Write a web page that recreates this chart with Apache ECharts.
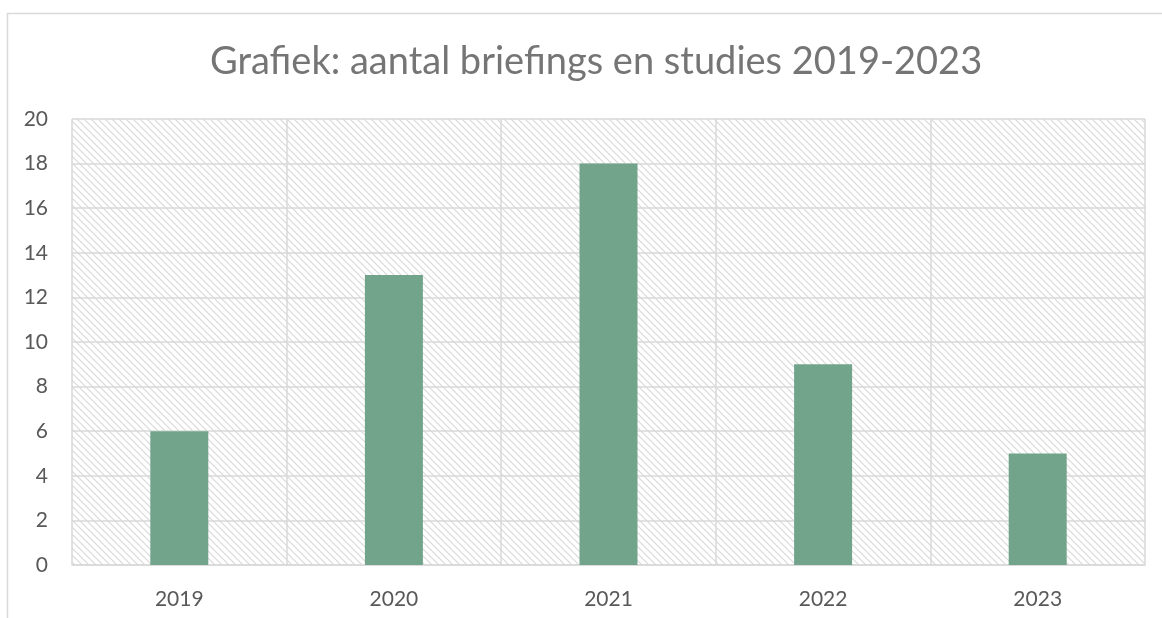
<!DOCTYPE html>
<html>
<head>
<meta charset="utf-8">
<script src="https://cdn.jsdelivr.net/npm/echarts@6/dist/echarts.min.js"></script>
<style>
    html, body { margin: 0; padding: 0; background: #fff; }
    #chart { width: 1162px; height: 618px; }
</style>
</head>
<body>
<div id="chart"></div>
<script>
const years = ['2019', '2020', '2021', '2022', '2023']
const counts = [6, 13, 18, 9, 5]
const chartTitle = 'Grafiek: aantal briefings en studies 2019-2023'

// diagonal hatch for the plot area
const makeHatch = () => {
    let n = 7
    let c = document.createElement('canvas')
    c.width = n
    c.height = n
    let ctx = c.getContext('2d')
    ctx.fillStyle = '#ffffff'
    ctx.fillRect(0, 0, n, n)
    ctx.strokeStyle = '#d8d8d8'
    ctx.lineWidth = 1.1
    ctx.beginPath()
    ctx.moveTo(-1, -1)
    ctx.lineTo(n + 1, n + 1)
    ctx.moveTo(-1, n - 1)
    ctx.lineTo(1, n + 1)
    ctx.moveTo(n - 1, -1)
    ctx.lineTo(n + 1, 1)
    ctx.stroke()
    return c
}

onload = () => {
    let myChart = echarts.init(document.getElementById('chart'))
    let labelFont = 'Lato, "Open Sans", sans-serif'

    let option = {
        animation: false,
        title: {
            text: chartTitle,
            left: 205,
            top: 38,
            textStyle: {
                fontFamily: labelFont,
                fontSize: 38,
                fontWeight: 'normal',
                color: '#757575'
            }
        },
        graphic: [
            {
                type: 'rect',
                silent: true,
                z: -10,
                shape: { x: 7.5, y: 13.5, width: 1200, height: 700 },
                style: { fill: 'none', stroke: '#d9d9d9', lineWidth: 1.5 }
            }
        ],
        grid: {
            left: 72,
            right: 17,
            top: 119,
            bottom: 53,
            show: true,
            borderWidth: 0,
            backgroundColor: { image: makeHatch(), repeat: 'repeat' }
        },
        xAxis: {
            type: 'category',
            data: years,
            axisLine: { show: true, lineStyle: { color: '#d9d9d9', width: 1.5 } },
            axisTick: { show: false },
            splitLine: { show: true, lineStyle: { color: '#d9d9d9', width: 1.5 } },
            axisLabel: {
                margin: 24,
                fontFamily: labelFont,
                fontSize: 21,
                color: '#595959'
            }
        },
        yAxis: {
            type: 'value',
            min: 0,
            max: 20,
            interval: 2,
            axisLine: { show: false },
            axisTick: { show: false },
            splitLine: { show: true, lineStyle: { color: '#d9d9d9', width: 1.5 } },
            axisLabel: {
                margin: 24,
                fontFamily: labelFont,
                fontSize: 21,
                color: '#595959'
            }
        },
        series: [
            {
                type: 'bar',
                data: counts,
                barWidth: 58,
                itemStyle: { color: '#72a48c' }
            }
        ]
    }

    option && myChart.setOption(option)
}
</script>
</body>
</html>
